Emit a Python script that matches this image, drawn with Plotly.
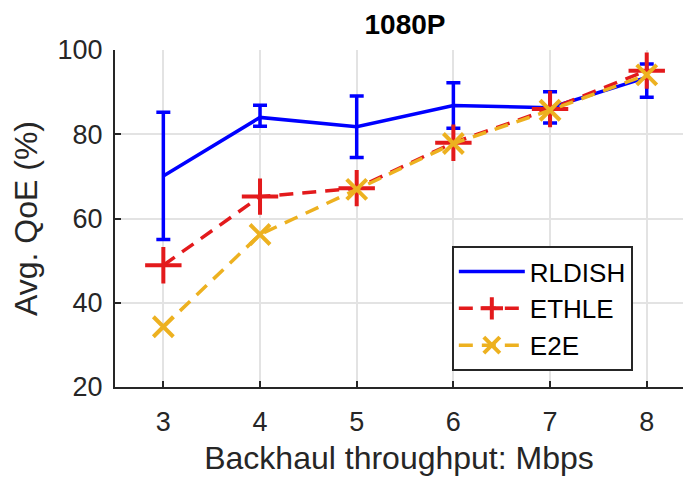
import plotly.graph_objects as go

# Backhaul throughput (Mbps)
throughput = [3, 4, 5, 6, 7, 8]

# Average QoE (%) per scheme
rldish = [70.1, 84.0, 81.8, 86.8, 86.3, 93.5]
rldish_err_plus = [15.1, 2.9, 7.3, 5.4, 3.8, 3.2]
rldish_err_minus = [15.1, 2.1, 7.3, 5.4, 3.6, 4.7]
ethle = [48.9, 65.2, 67.2, 78.0, 86.0, 95.1]
e2e = [34.3, 56.2, 66.9, 77.8, 85.7, 94.1]

x_ticks = [3, 4, 5, 6, 7, 8]
y_ticks = [20, 40, 60, 80, 100]

BLUE = "#0000FF"
RED = "#E31A1C"
GOLD = "#EDB120"
INK = "#262626"
FONT = "Liberation Sans, Arial, sans-serif"

fig = go.Figure()

fig.add_trace(go.Scatter(
    x=throughput, y=rldish, name="RLDISH", mode="lines",
    line=dict(color=BLUE, width=3.5),
    error_y=dict(type="data", symmetric=False, array=rldish_err_plus,
                 arrayminus=rldish_err_minus, color=BLUE, thickness=3.5, width=7),
))
fig.add_trace(go.Scatter(
    x=throughput, y=ethle, name="ETHLE", mode="lines+markers",
    line=dict(color=RED, width=3.5, dash="14px,9px"),
    marker=dict(symbol="cross-thin", size=26, line=dict(color=RED, width=4)),
))
fig.add_trace(go.Scatter(
    x=throughput, y=e2e, name="E2E", mode="lines+markers",
    line=dict(color=GOLD, width=3.5, dash="14px,9px"),
    marker=dict(symbol="x-thin", size=20, line=dict(color=GOLD, width=4)),
))

fig.update_layout(
    width=683, height=480,
    margin=dict(l=115, r=0, t=50, b=93),
    paper_bgcolor="white", plot_bgcolor="white",
    font=dict(family=FONT, size=27, color=INK),
    title=dict(text="<b>1080P</b>", x=(405 - 115) / 568, xref="paper",
               xanchor="center", y=1 - 24 / 480, yanchor="middle",
               font=dict(size=28, color="#000000")),
    showlegend=True,
    legend=dict(x=0.593, y=0.418, xanchor="left", yanchor="top",
                bgcolor="white", bordercolor=INK, borderwidth=2,
                font=dict(size=26, color="#000000"),
                itemwidth=66, tracegroupgap=0),
)
fig.update_xaxes(
    range=[2.5, 8.375], tickvals=x_ticks, ticktext=[str(v) for v in x_ticks],
    showgrid=True, gridcolor="#E3E3E3", gridwidth=2,
    showline=True, linecolor=INK, linewidth=2,
    ticks="inside", ticklen=6, tickwidth=2, tickcolor=INK,
    ticklabelstandoff=10, zeroline=False,
    title=dict(text="Backhaul throughput: Mbps", font=dict(size=32), standoff=10),
)
fig.update_yaxes(
    range=[20, 100], tickvals=y_ticks, ticktext=[str(v) for v in y_ticks],
    showgrid=True, gridcolor="#E3E3E3", gridwidth=2,
    showline=True, linecolor=INK, linewidth=2,
    ticks="inside", ticklen=6, tickwidth=2, tickcolor=INK,
    ticklabelstandoff=5, zeroline=False,
    title=dict(text="Avg. QoE (%)", font=dict(size=32), standoff=10),
)

fig.write_html("out.html")
